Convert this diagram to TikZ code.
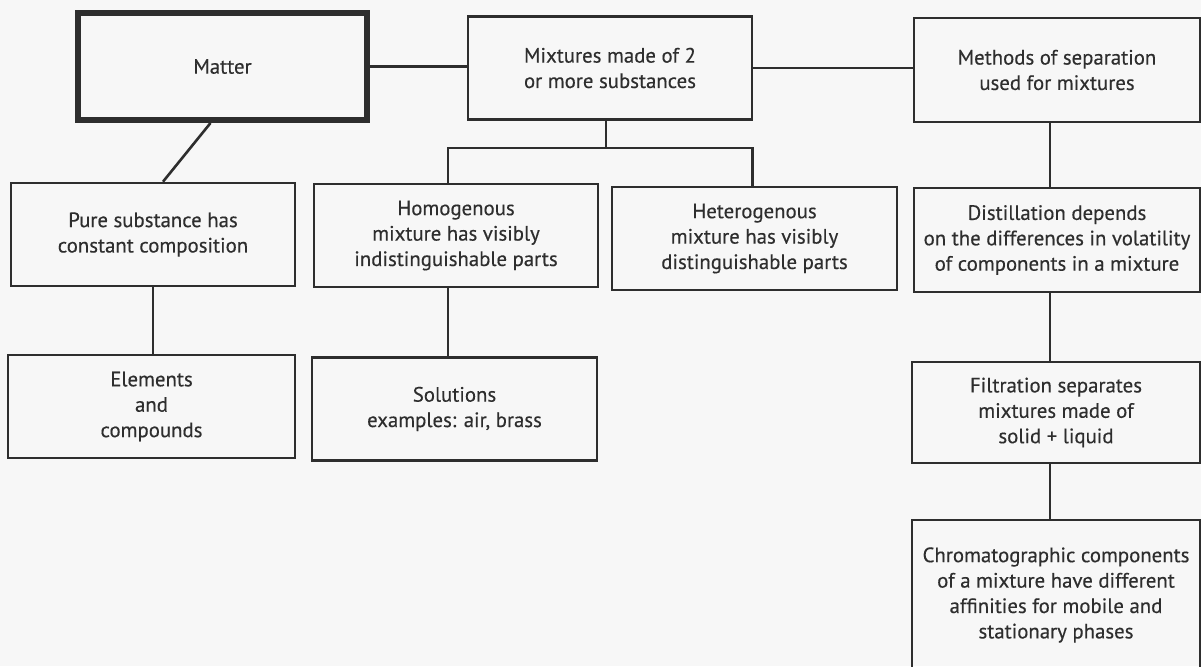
\documentclass[tikz,border=0pt]{standalone}
\usepackage{fontspec}
\setmainfont{PT Sans}
\newfontfamily\boxfont{PT Sans}[FakeBold=0.35]
\usepackage{tikz}
\usetikzlibrary{calc}
\usepackage{xcolor}
\definecolor{paper}{HTML}{F7F7F7}
\definecolor{ink}{HTML}{2E2E2E}
\tikzset{
  concept box/.style={
    draw=ink, rectangle, line width=1.3pt,
    minimum width=143pt, minimum height=51.5pt,
    align=center, text=ink,
    font=\boxfont\fontsize{10.4}{12.7}\selectfont
  },
  wide box/.style={
    concept box, minimum width=144pt
  },
  main box/.style={
    concept box, line width=3pt, minimum height=53.5pt
  },
  link/.style={
    draw=ink, line width=1.3pt
  },
}

\begin{document}
\begin{tikzpicture}[x=0.5pt, y=-0.5pt]

  % Page
  \fill[paper] (0,0) rectangle (1201,666);
  \useasboundingbox (0,0) rectangle (1201,666);

  % Top row
  \node[main box, minimum width=144.5pt] (matter) at (222.5,66.5) {Matter};
  \node[concept box, minimum width=142pt] (mix) at (610,68)
    {Mixtures made of 2\\or more substances};
  \node[concept box, minimum height=52pt] (meth) at (1057,70)
    {Methods of separation\\used for mixtures};

  % Second row
  \node[concept box, minimum width=142pt] (pure) at (153,234.5)
    {Pure substance has\\constant composition};
  \node[concept box, minimum width=142pt] (homo) at (456,235.5)
    {Homogenous\\mixture has visibly\\indistinguishable parts};
  \node[concept box, minimum width=142.5pt] (hetero) at (754.5,238.5)
    {Heterogenous\\mixture has visibly\\distinguishable parts};
  \node[concept box, minimum height=52pt] (distil) at (1057,240)
    {Distillation depends\\on the differences in volatility\\of components in a mixture};

  % Third row
  \node[concept box, minimum width=143.5pt] (elem) at (151.5,406.5)
    {Elements\\and\\compounds};
  \node[concept box, minimum width=142.5pt] (sol) at (454.5,409)
    {Solutions\\examples: air, brass};
  \node[wide box, minimum height=50.5pt] (filt) at (1056,412.5)
    {Filtration separates\\mixtures made of\\solid + liquid};

  % Bottom
  \node[wide box, minimum height=75pt] (chrom) at (1056,595)
    {Chromatographic components\\of a mixture have different\\affinities for mobile and\\stationary phases};

  % Connectors
  \coordinate (fork) at (606,148);
  \coordinate (hcol) at (448,0);
  \coordinate (spine) at (1050,0);
  \draw[link] (matter.east) -- (matter.east -| mix.west);
  \draw[link] (mix.east) -- (mix.east -| meth.west);
  \draw[link] ($(matter.south)+(-12,0)$) -- ($(pure.north)+(10,0)$);
  \draw[link] (mix.south -| fork) -- (fork);
  \draw[link] (homo.north -| hcol) |- (fork) -| ($(hetero.north)+(-2,0)$);
  \draw[link] (pure.south) -- (pure.south |- elem.north);
  \draw[link] (homo.south -| hcol) -- (sol.north -| hcol);
  \draw[link] (meth.south -| spine) -- (distil.north -| spine);
  \draw[link] (distil.south -| spine) -- (filt.north -| spine);
  \draw[link] (filt.south -| spine) -- (chrom.north -| spine);

\end{tikzpicture}
\end{document}
